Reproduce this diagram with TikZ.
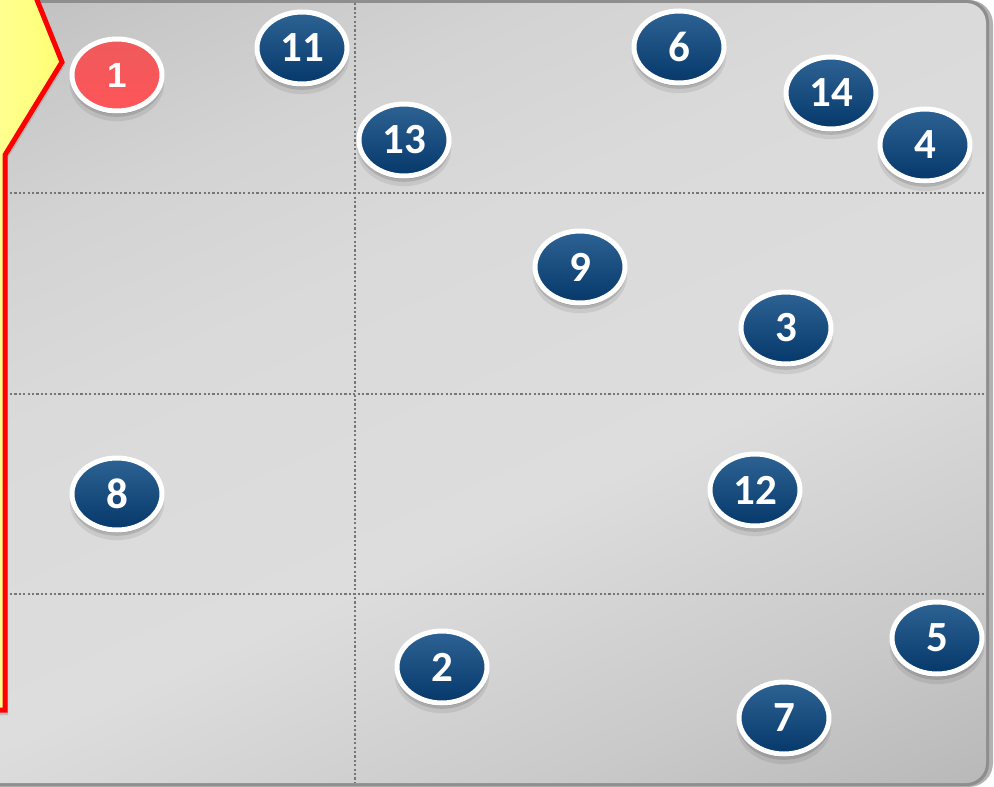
\documentclass[tikz,border=0pt]{standalone}
\usepackage{fontspec}
\setmainfont{Carlito}
\newfontfamily\arialfont{Liberation Sans}
\usetikzlibrary{shadows,shapes.geometric}
\definecolor{navytop}{HTML}{2D6394}
\definecolor{navybot}{HTML}{06386A}
\definecolor{redtop}{HTML}{EE5A5C}
\definecolor{redbot}{HTML}{FF5558}
\definecolor{paneledge}{HTML}{8E8E8E}
\definecolor{gridgray}{HTML}{767676}
\definecolor{gA}{HTML}{AEAEAE}
\definecolor{gB}{HTML}{B9B9B9}
\definecolor{gC}{HTML}{C7C7C7}
\definecolor{gD}{HTML}{D3D3D3}
\definecolor{gE}{HTML}{DADADA}
\definecolor{gF}{HTML}{DDDDDD}
\definecolor{gG}{HTML}{C9C9C9}
\definecolor{gH}{HTML}{B8B8B8}
\definecolor{gI}{HTML}{ACACAC}
\definecolor{gJ}{HTML}{A6A6A6}
\pgfdeclarehorizontalshading{panelshade}{100bp}{color(0bp)=(gA); color(14bp)=(gA); color(21.5bp)=(gB); color(28bp)=(gC); color(35bp)=(gD); color(43bp)=(gE); color(56bp)=(gF); color(68bp)=(gG); color(76bp)=(gH); color(82bp)=(gI); color(86bp)=(gJ); color(100bp)=(gJ)}
\tikzset{
  num/.style={ellipse, minimum width=90pt, minimum height=72pt, inner sep=0pt,
    draw=white, line width=5pt, top color=navytop, bottom color=navybot,
    text=white, font=\bfseries\fontsize{43}{43}\selectfont,
    drop shadow={shadow xshift=0pt, shadow yshift=-8pt, shadow scale=1.05, opacity=0.08, fill=black},
    drop shadow={shadow xshift=0pt, shadow yshift=-5pt, shadow scale=1.02, opacity=0.12, fill=black},
    drop shadow={shadow xshift=0pt, shadow yshift=-3pt, shadow scale=1.0, opacity=0.18, fill=black}},
  rednum/.style={num, top color=redtop, bottom color=redbot, font=\arialfont\bfseries\fontsize{35}{35}\selectfont},
  gridline/.style={draw=gridgray, line width=2.2pt, dash pattern=on 2.2pt off 2.2pt}
}
\begin{document}
\begin{tikzpicture}[x=1pt,y=-1pt]
\useasboundingbox (0,0) rectangle (994,787);
\fill[white] (0,0) rectangle (994,787);
% panel border / shadow
\fill[black!30, rounded corners=24pt] (-40,0) rectangle (993,787);
\fill[paneledge, rounded corners=22pt] (-40,0) rectangle (989,786);
% panel gradient
\begin{scope}
\clip[rounded corners=20pt] (-40,3) rectangle (986,783);
\shade[shading=panelshade, shading angle=-66] (-77,-157) rectangle (1023,943);
\end{scope}
% grid
\coordinate (v1) at (355,3);  \coordinate (v2) at (355,783);
\coordinate (h1a) at (10,193); \coordinate (h1b) at (984,193);
\coordinate (h2a) at (10,394); \coordinate (h2b) at (984,394);
\coordinate (h3a) at (10,594); \coordinate (h3b) at (984,594);
\draw[gridline] (v1) -- (v2);
\draw[gridline] (h1a) -- (h1b);
\draw[gridline] (h2a) -- (h2b);
\draw[gridline] (h3a) -- (h3b);
% yellow arrow
\fill[black!35, opacity=0.6] (-20,-10) -- (36,-10) -- (65,65) -- (8,158) -- (8,715) -- (-20,715) -- cycle;
\draw[draw=red, line width=5pt, left color=yellow!40, right color=yellow!55, miter limit=10] (-20,-10) -- (33,-10) -- (62,62) -- (5,155) -- (5,710) -- (-20,710) -- cycle;
% numbered ellipses
\node[rednum] (n1) at (117,75) {1};
\node[num] (n11) at (302,48) {11};
\node[num] (n13) at (404,140) {13};
\node[num] (n6) at (679,47) {6};
\node[num] (n14) at (831,93) {14};
\node[num] (n4) at (925,145) {4};
\node[num] (n9) at (580,267) {9};
\node[num] (n3) at (786,328) {3};
\node[num] (n8) at (117,494) {8};
\node[num] (n12) at (755,490) {12};
\node[num] (n2) at (442,667) {2};
\node[num] (n5) at (937,638) {5};
\node[num] (n7) at (784,718) {7};
\end{tikzpicture}
\end{document}
